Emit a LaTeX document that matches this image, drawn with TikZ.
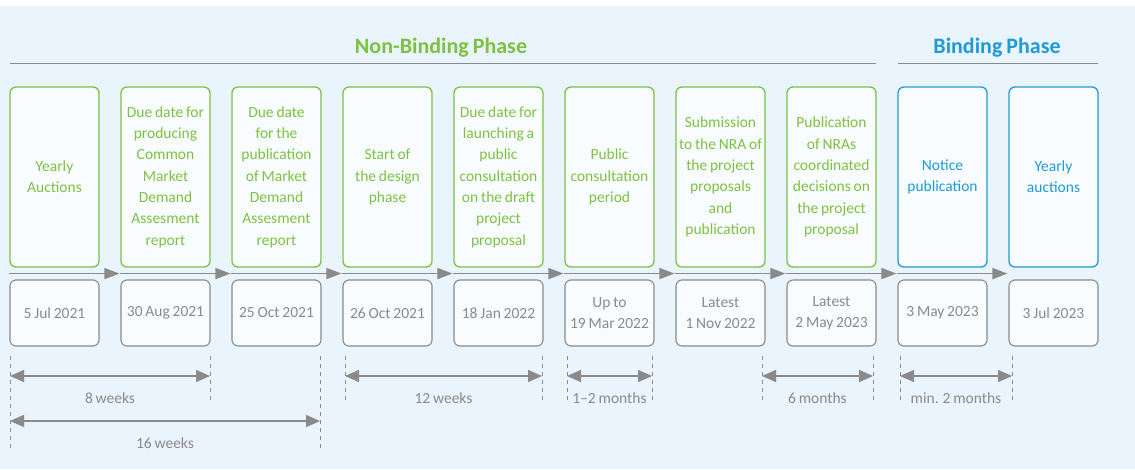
\documentclass[tikz,border=0pt]{standalone}
\usepackage{fontspec}
\setmainfont{Carlito}[WordSpace=0.8]
\usetikzlibrary{arrows.meta,positioning,calc}
\definecolor{nbgreen}{HTML}{7DC142}
\definecolor{bblue}{HTML}{1E9AD7}
\definecolor{tlgray}{HTML}{8A8A8A}
\definecolor{bgblue}{HTML}{EAF4FC}
\definecolor{boxfill}{HTML}{F9FCFF}

\begin{document}
\begin{tikzpicture}[x=1pt, y=-1pt,
    event/.style={draw=nbgreen, line width=1.3pt, rounded corners=6pt, fill=boxfill,
                  minimum width=89pt, minimum height=180pt, inner sep=0pt,
                  align=center, text=nbgreen, font=\fontsize{15.5}{21.3}\selectfont},
    bevent/.style={event, draw=bblue, text=bblue},
    datebox/.style={draw=tlgray, line width=1.1pt, rounded corners=6pt, fill=boxfill,
                    minimum width=89pt, minimum height=66pt, inner sep=0pt,
                    align=center, text=tlgray, font=\fontsize{15.5}{21.3}\selectfont},
    phase/.style={font=\fontsize{22}{26}\selectfont\bfseries},
    phaseline/.style={draw=tlgray, line width=1pt},
    flow/.style={draw=tlgray, line width=1.6pt, -{Triangle[length=15pt, width=11pt]}},
    span/.style={draw=tlgray, line width=1.3pt,
                 {Triangle[length=14pt, width=12pt]}-{Triangle[length=14pt, width=12pt]}},
    guide/.style={draw=tlgray, line width=0.8pt, dash pattern=on 4pt off 4pt},
    spanlabel/.style={text=tlgray, font=\fontsize{15.5}{18}\selectfont}
]
\useasboundingbox (0,0) rectangle (1135,469);
\fill[bgblue] (0,6) rectangle (1135,469);

% --- phase headers ---
\node[phase, text=nbgreen] (nbphase) at (441,48) {Non-Binding Phase};
\node[phase, text=bblue] (bphase) at (997,48) {Binding Phase};
\draw[phaseline] (10,63) -- (876,63);
\draw[phaseline] (898,63) -- (1098,63);

% --- events ---
\foreach \i/\txt in {1/{Yearly\\Auctions},
                     2/{Due date for\\producing\\Common\\Market\\Demand\\Assesment\\report},
                     3/{Due date\\for the\\publication\\of Market\\Demand\\Assesment\\report},
                     4/{Start of\\the design\\phase},
                     5/{Due date for\\launching a\\public\\consultation\\on the draft\\project\\proposal},
                     6/{Public\\consultation\\period},
                     7/{Submission\\to the NRA of\\the project\\proposals\\and\\publication},
                     8/{Publication\\of NRAs\\coordinated\\decisions on\\the project\\proposal}}
  \node[event] (ev\i) at ({54.5+111*(\i-1)},177) {\txt};
\node[bevent] (ev9) at ({54.5+111*8},177) {Notice\\publication};
\node[bevent] (ev10) at ({54.5+111*9},177) {Yearly\\auctions};

% --- dates ---
\foreach \i/\txt in {1/{5 Jul 2021}, 2/{30 Aug 2021}, 3/{25 Oct 2021}, 4/{26 Oct 2021},
                     5/{18 Jan 2022}, 6/{Up to\\19 Mar 2022}, 7/{Latest\\1 Nov 2022},
                     8/{Latest\\2 May 2023}, 9/{3 May 2023}, 10/{3 Jul 2023}}
  \node[datebox] (d\i) at ({54.5+111*(\i-1)},313) {\txt};

% --- timeline arrows ---
\foreach \i in {1,...,10}
  \coordinate (t\i) at ($(ev\i.south west)!0.5!(d\i.north west)$);
\foreach \i [evaluate=\i as \j using int(\i+1)] in {1,...,9}
  \draw[flow] (t\i) -- ([xshift=-1pt]t\j);

% --- durations ---
\foreach \n/\x/\b in {ga/10/450, gb/210/403, gc/320/450, gd/345/403, ge/542/403,
                      gf/567/403, gg/652/403, gh/762/403, gi/873/403, gj/900/403, gk/1012/403}
  \draw[guide] (\x,356) coordinate (\n-top) -- (\x,\b) coordinate (\n-bot);

\draw[span] ($(ga-top)+(0,20)$) coordinate (s1a) -- ($(gb-top)+(0,20)$) coordinate (s1b);
\node[spanlabel] (w8) at ($(s1a)!0.5!(s1b)+(0,22)$) {8 weeks};
\draw[span] ($(ga-top)+(0,65)$) coordinate (s2a) -- ($(gc-top)+(0,65)$) coordinate (s2b);
\node[spanlabel] (w16) at ($(s2a)!0.5!(s2b)+(0,22)$) {16 weeks};
\draw[span] ($(gd-top)+(0,20)$) coordinate (s3a) -- ($(ge-top)+(0,20)$) coordinate (s3b);
\node[spanlabel] (w12) at ($(s3a)!0.5!(s3b)+(0,22)$) {12 weeks};
\draw[span] ($(gf-top)+(0,20)$) coordinate (s4a) -- ($(gg-top)+(0,20)$) coordinate (s4b);
\node[spanlabel] (m12) at ($(s4a)!0.5!(s4b)+(0,22)$) {1–2 months};
\draw[span] ($(gh-top)+(0,20)$) coordinate (s5a) -- ($(gi-top)+(0,20)$) coordinate (s5b);
\node[spanlabel] (m6) at ($(s5a)!0.5!(s5b)+(0,22)$) {6 months};
\draw[span] ($(gj-top)+(0,20)$) coordinate (s6a) -- ($(gk-top)+(0,20)$) coordinate (s6b);
\node[spanlabel] (m2) at ($(s6a)!0.5!(s6b)+(0,22)$) {min. 2 months};

\end{tikzpicture}
\end{document}
